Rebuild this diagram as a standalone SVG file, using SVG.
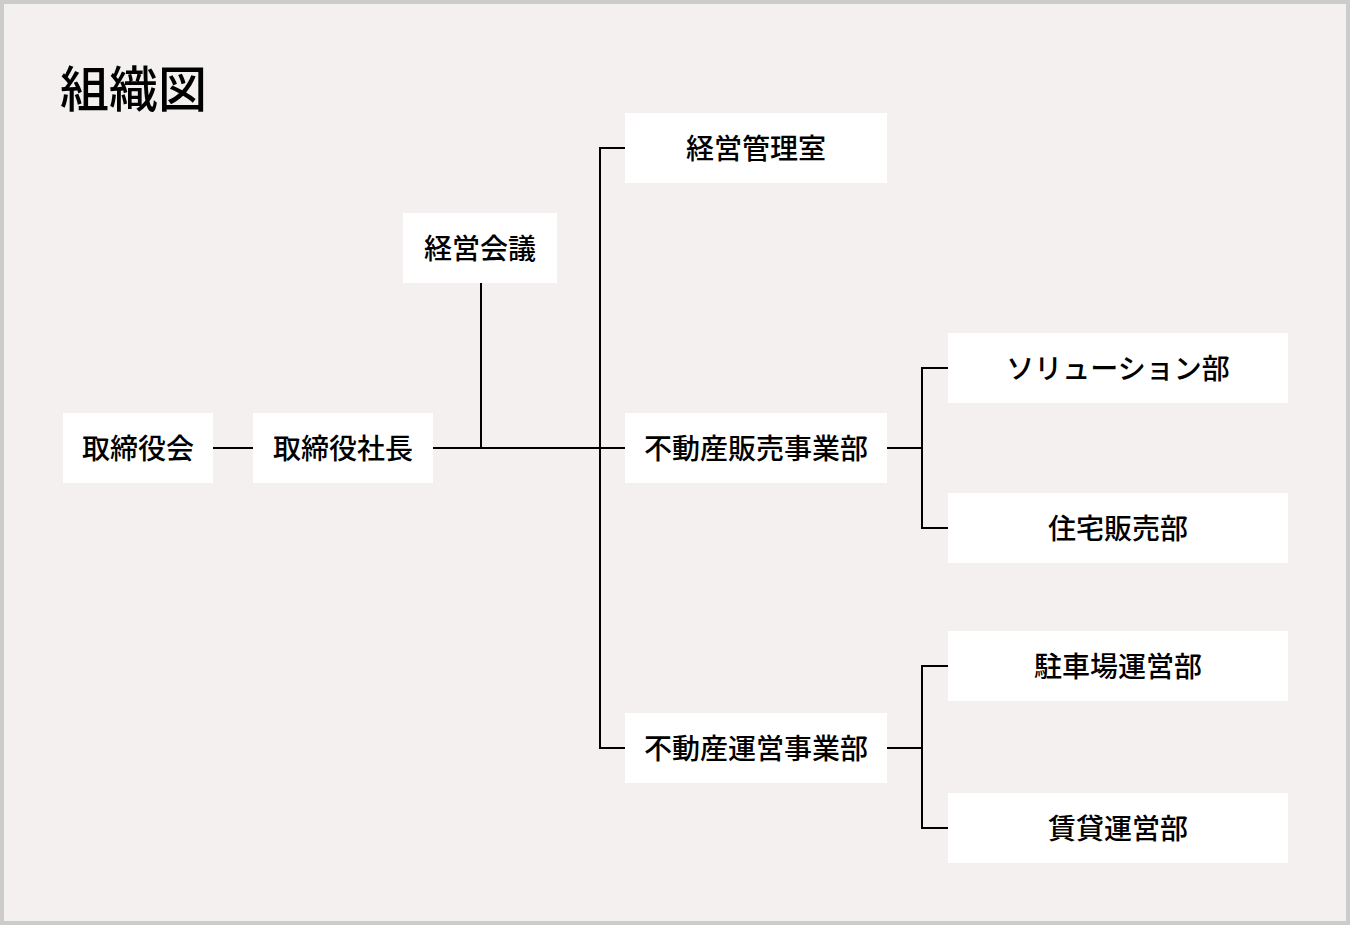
<svg xmlns="http://www.w3.org/2000/svg" width="1350" height="925" viewBox="0 0 1350 925">
<style>
.bg{fill:#f3f0ef;stroke:#cccccc;stroke-width:4}
.box{fill:#ffffff}
.lbl{font-family:"Noto Sans CJK JP","Noto Sans",sans-serif;font-size:28px;font-weight:500;fill:#000;text-anchor:middle;dominant-baseline:central}
.title{font-family:"Noto Sans CJK JP","Noto Sans",sans-serif;font-size:49px;font-weight:500;fill:#000}
.ln{fill:none;stroke:#000;stroke-width:2}
</style>
<rect class="bg" x="2" y="2" width="1346" height="921"/>
<text class="title" x="60" y="107">組織図</text>
<g id="connectors">
<path class="ln" d="M213 448H253"/>
<path class="ln" d="M433 448H625"/>
<path class="ln" d="M481 283V448"/>
<path class="ln" d="M625 148H600V748H625"/>
<path class="ln" d="M887 448H922"/>
<path class="ln" d="M948 368H922V528H948"/>
<path class="ln" d="M887 748H922"/>
<path class="ln" d="M948 666H922V828H948"/>
</g>
<g id="n-board"><rect class="box" x="63" y="413" width="150" height="70"/><text class="lbl" x="138" y="447">取締役会</text></g>
<g id="n-president"><rect class="box" x="253" y="413" width="180" height="70"/><text class="lbl" x="343" y="447">取締役社長</text></g>
<g id="n-meeting"><rect class="box" x="403" y="213" width="154" height="70"/><text class="lbl" x="480" y="247">経営会議</text></g>
<g id="n-mgmt"><rect class="box" x="625" y="113" width="262" height="70"/><text class="lbl" x="756" y="147">経営管理室</text></g>
<g id="n-sales"><rect class="box" x="625" y="413" width="262" height="70"/><text class="lbl" x="756" y="447">不動産販売事業部</text></g>
<g id="n-ops"><rect class="box" x="625" y="713" width="262" height="70"/><text class="lbl" x="756" y="747">不動産運営事業部</text></g>
<g id="n-solution"><rect class="box" x="948" y="333" width="340" height="70"/><text class="lbl" x="1118" y="367">ソリューション部</text></g>
<g id="n-housing"><rect class="box" x="948" y="493" width="340" height="70"/><text class="lbl" x="1118" y="527">住宅販売部</text></g>
<g id="n-parking"><rect class="box" x="948" y="631" width="340" height="70"/><text class="lbl" x="1118" y="665">駐車場運営部</text></g>
<g id="n-rental"><rect class="box" x="948" y="793" width="340" height="70"/><text class="lbl" x="1118" y="827">賃貸運営部</text></g>
</svg>
